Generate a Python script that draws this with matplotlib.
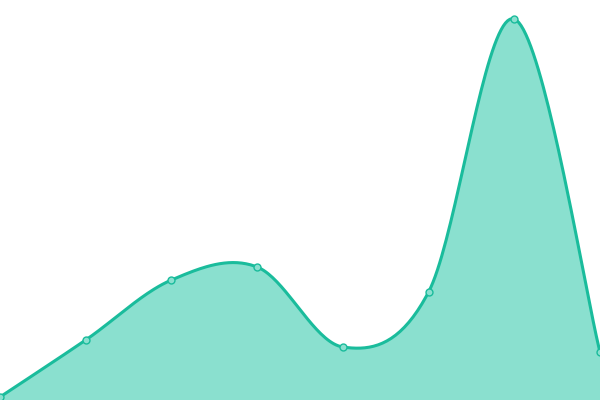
import numpy as np
import matplotlib
matplotlib.use("Agg")
import matplotlib.pyplot as plt

# values (0 = bottom edge)
categories = ["A", "B", "C", "D", "E", "F", "G", "H"]
values = [3, 60, 120, 133, 53, 108, 381, 48]

LINE = "#1abc9c"
FILL = "#8ae0cf"


def smooth_curve(xs, ys, n=40, k=0.5):
    """Cubic Hermite curve through the points, tangents like a cardinal spline."""
    xs = np.asarray(xs, float)
    ys = np.asarray(ys, float)
    m = len(xs)
    tx = np.zeros(m)
    ty = np.zeros(m)
    for i in range(m):
        a = max(i - 1, 0)
        b = min(i + 1, m - 1)
        tx[i] = (xs[b] - xs[a]) * k
        ty[i] = (ys[b] - ys[a]) * k
    t = np.linspace(0, 1, n)
    h00 = 2 * t**3 - 3 * t**2 + 1
    h10 = t**3 - 2 * t**2 + t
    h01 = -2 * t**3 + 3 * t**2
    h11 = t**3 - t**2
    outx, outy = [], []
    for i in range(m - 1):
        outx.append(h00 * xs[i] + h10 * tx[i] + h01 * xs[i + 1] + h11 * tx[i + 1])
        outy.append(h00 * ys[i] + h10 * ty[i] + h01 * ys[i + 1] + h11 * ty[i + 1])
    return np.concatenate(outx), np.concatenate(outy)


fig = plt.figure(figsize=(6, 4), dpi=100)
ax = fig.add_axes([0, 0, 1, 1])

x = np.arange(len(categories))
cx, cy = smooth_curve(x, values)

ax.fill_between(cx, 0, cy, color=FILL, lw=0)
ax.plot(cx, cy, color=LINE, lw=2.2, solid_capstyle="round")
ax.plot(x, values, "o", ms=5, mfc=FILL, mec=LINE, mew=1)

ax.set_xlim(0, len(categories) - 1)
ax.set_ylim(0, 400)
ax.axis("off")

fig.savefig("out.png", dpi=100)
